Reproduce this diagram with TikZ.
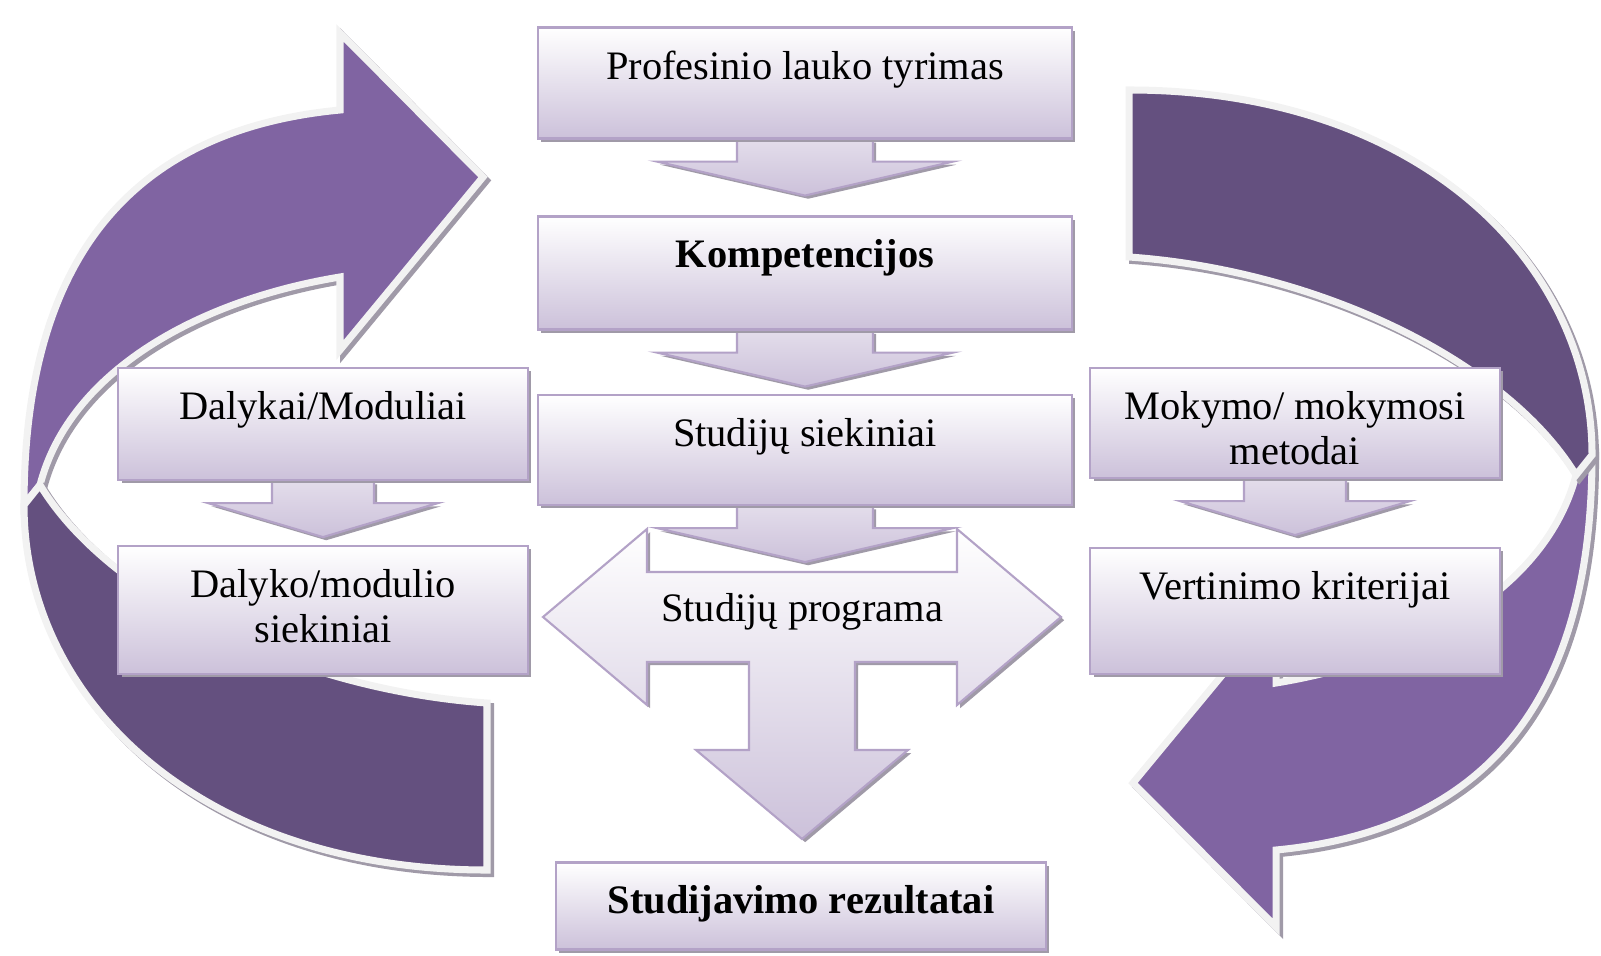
\documentclass[tikz,border=0pt]{standalone}
\usepackage{fontspec}
\setmainfont{Liberation Serif}
\usetikzlibrary{positioning,calc,shadows}
\definecolor{violetine}{HTML}{8064A2}
\definecolor{tamsi}{HTML}{64507F}
\definecolor{kontur}{HTML}{B3A2C7}
\definecolor{levanda}{HTML}{CCC1DA}
\definecolor{baltapilka}{HTML}{F2F2F2}
\definecolor{seselis}{HTML}{A09AA8}

\pgfdeclarelayer{fonas}
\pgfsetlayers{fonas,main}

\tikzset{
  dezute/.style={rectangle, draw=kontur, line width=0.6pt, top color=white, bottom color=levanda,
    inner sep=0pt, drop shadow={shadow xshift=0.9pt, shadow yshift=-0.9pt, fill=seselis, opacity=1}},
  centrine/.style={dezute, minimum width=5.34cm},
  sonine/.style={dezute, minimum width=4.09cm},
  tekstas/.style={inner sep=0pt, align=center, font=\fontsize{11.5}{12.8}\selectfont},
  rodstil/.style={draw=kontur, line width=0.6pt, top color=levanda!55, bottom color=levanda,
    drop shadow={shadow xshift=0.9pt, shadow yshift=-0.9pt, fill=seselis, opacity=1}},
  didrod/.style={draw=baltapilka, line width=2pt,
    preaction={draw=seselis, fill=seselis, line width=2pt, transform canvas={xshift=1pt, yshift=-1pt}}}
}

% rodyklė žemyn: mazgas, koto pusplotis, smaigalio pusplotis
\newcommand{\rodykle}[3]{%
  \draw[rodstil] ($(#1.south)+(-#2,0)$) -- ($(#1.south)+(-#2,22)$) -- ($(#1.south)+(-#3,22)$)
    -- ($(#1.south)+(0,56)$) -- ($(#1.south)+(#3,22)$) -- ($(#1.south)+(#2,22)$)
    -- ($(#1.south)+(#2,0)$) -- cycle;}

\begin{document}
\begin{tikzpicture}[x=0.01cm, y=-0.01cm]
    \useasboundingbox (0,0) rectangle (1601,955);

    % Didžiosios rodyklės aplink
    \begin{pgfonlayer}{fonas}
        \draw[didrod, fill=violetine] (340,110) -- (340,33) -- (483,177) -- (340,350) -- (340,277)
            .. controls (200,300) and (70,370) .. (40,485) -- (24,505)
            .. controls (24,260) and (130,130) .. (340,110) -- cycle;
        \draw[didrod, fill=tamsi] (24,505) -- (40,485)
            .. controls (110,600) and (300,690) .. (487,703) -- (487,870)
            .. controls (200,870) and (24,700) .. (24,505) -- cycle;
        \begin{scope}[rotate around={180:(808,480)}]
            \draw[didrod, fill=violetine] (340,110) -- (340,33) -- (483,177) -- (340,350) -- (340,277)
                .. controls (200,300) and (70,370) .. (40,485) -- (24,505)
                .. controls (24,260) and (130,130) .. (340,110) -- cycle;
            \draw[didrod, fill=tamsi] (24,505) -- (40,485)
                .. controls (110,600) and (300,690) .. (487,703) -- (487,870)
                .. controls (200,870) and (24,700) .. (24,505) -- cycle;
        \end{scope}
    \end{pgfonlayer}

    % Studijų programa (kryžminė rodyklė)
    \begin{scope}[shift={(802,617)}]
        \draw[rodstil, top color=white] (-259,0) -- (-155,-88) -- (-155,-45) -- (155,-45) -- (155,-88)
            -- (259,0) -- (155,88) -- (155,45) -- (53,45) -- (53,133) -- (106,133) -- (0,222)
            -- (-106,133) -- (-53,133) -- (-53,45) -- (-155,45) -- (-155,88) -- cycle;
        \node[tekstas, anchor=base] (prog) at (0,4) {Studijų programa};
    \end{scope}

    % Langeliai
    \node[centrine, minimum height=1.11cm] (prof) at (805,83) {};
    \node[centrine, minimum height=1.13cm] (komp) at (805,273) {};
    \node[centrine, minimum height=1.10cm] (sieki) at (805,450) {};
    \node[sonine, minimum height=1.12cm] (dal) at (323,424) {};
    \node[sonine, minimum height=1.28cm] (dalsiek) at (323,610) {};
    \node[sonine, minimum height=1.10cm] (mok) at (1295,423) {};
    \node[sonine, minimum height=1.26cm] (vert) at (1295,611) {};
    \node[dezute, minimum width=4.90cm, minimum height=0.87cm] (rez) at (801,906) {};

    \node[tekstas, below=6.7pt of prof.north] (profT) {Profesinio lauko tyrimas};
    \node[tekstas, font=\fontsize{11.5}{12.8}\selectfont\bfseries, below=6.7pt of komp.north] (kompT) {Kompetencijos};
    \node[tekstas, below=6.7pt of sieki.north] (siekiT) {Studijų siekiniai};
    \node[tekstas, below=6.7pt of dal.north] (dalT) {Dalykai/Moduliai};
    \node[tekstas, below=6.7pt of dalsiek.north] (dalsiekT) {Dalyko/modulio\\siekiniai};
    \node[tekstas, below=6.7pt of mok.north] (mokT) {Mokymo/ mokymosi\\metodai};
    \node[tekstas, below=6.7pt of vert.north] (vertT) {Vertinimo kriterijai};
    \node[tekstas, font=\fontsize{11.5}{12.8}\selectfont\bfseries, below=6.7pt of rez.north] (rezT) {Studijavimo rezultatai};

    % Rodyklės tarp langelių
    \begin{pgfonlayer}{fonas}
        \rodykle{prof}{68}{148}
        \rodykle{komp}{68}{148}
        \rodykle{sieki}{68}{148}
        \rodykle{dal}{51}{115}
        \rodykle{mok}{51}{115}
    \end{pgfonlayer}
\end{tikzpicture}
\end{document}
